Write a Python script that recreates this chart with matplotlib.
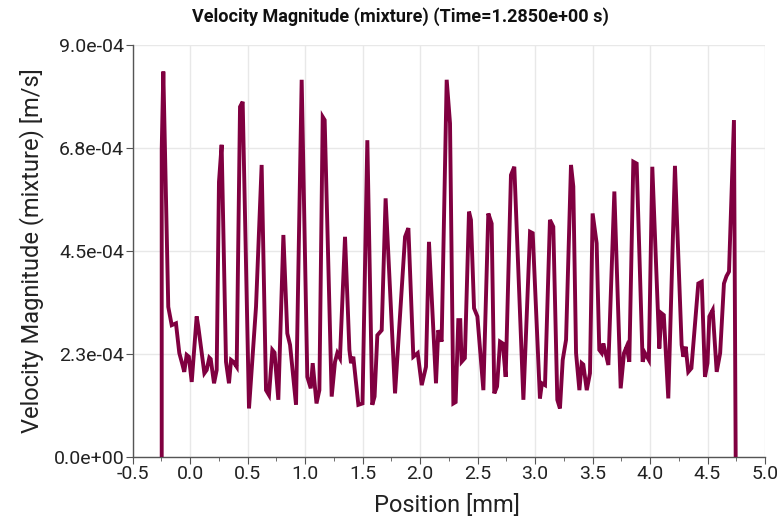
import matplotlib
matplotlib.use("Agg")
import matplotlib.pyplot as plt
from matplotlib.ticker import MultipleLocator

# Data (position in mm, velocity in units of 1e-4 m/s)
position_mm = [
    -0.246, -0.246, -0.232, -0.189, -0.159, -0.122, -0.093, -0.067, -0.050, -0.029,
    -0.010, 0.015, 0.058, 0.072, 0.125, 0.145, 0.168, 0.180, 0.209, 0.232,
    0.252, 0.275, 0.313, 0.339, 0.357, 0.377, 0.406, 0.435, 0.458, 0.513,
    0.574, 0.623, 0.661, 0.687, 0.716, 0.735, 0.768, 0.812, 0.846, 0.870,
    0.922, 0.971, 1.020, 1.050, 1.067, 1.100, 1.125, 1.154, 1.171, 1.232,
    1.261, 1.281, 1.304, 1.348, 1.386, 1.400, 1.420, 1.464, 1.500, 1.542,
    1.585, 1.605, 1.629, 1.667, 1.701, 1.783, 1.870, 1.899, 1.942, 1.980,
    2.015, 2.052, 2.078, 2.139, 2.159, 2.188, 2.232, 2.261, 2.290, 2.310,
    2.333, 2.350, 2.362, 2.390, 2.426, 2.443, 2.470, 2.499, 2.551, 2.594,
    2.623, 2.646, 2.670, 2.696, 2.720, 2.745, 2.791, 2.820, 2.899, 2.957,
    2.980, 3.043, 3.060, 3.087, 3.130, 3.159, 3.194, 3.217, 3.241, 3.270,
    3.313, 3.333, 3.357, 3.386, 3.406, 3.420, 3.450, 3.478, 3.501, 3.536,
    3.559, 3.580, 3.594, 3.638, 3.690, 3.745, 3.774, 3.797, 3.820, 3.855,
    3.884, 3.936, 3.956, 3.990, 4.020, 4.081, 4.100, 4.120, 4.159, 4.217,
    4.275, 4.290, 4.310, 4.333, 4.360, 4.420, 4.450, 4.478, 4.500, 4.516,
    4.545, 4.580, 4.610, 4.643, 4.665, 4.687, 4.730, 4.745,
]
velocity_e4 = [
    0.00, 6.71, 8.42, 3.28, 2.88, 2.92, 2.27, 2.03, 1.86, 2.23,
    2.19, 1.64, 3.07, 2.85, 1.83, 1.90, 2.17, 2.14, 1.61, 1.90,
    6.01, 6.82, 2.08, 1.61, 2.12, 2.08, 1.97, 7.65, 7.76, 1.06,
    3.28, 6.38, 1.46, 1.35, 2.34, 2.28, 1.25, 4.85, 2.70, 2.45,
    1.14, 8.24, 1.75, 1.50, 2.05, 1.17, 1.46, 7.43, 7.36, 1.32,
    2.08, 2.27, 2.16, 4.81, 2.34, 2.05, 2.19, 1.14, 1.17, 6.92,
    1.14, 1.32, 2.66, 2.77, 5.65, 1.39, 4.81, 5.00, 2.19, 2.27,
    1.57, 1.97, 4.70, 1.61, 2.77, 2.52, 8.24, 7.29, 1.17, 1.20,
    2.99, 2.99, 2.08, 2.16, 5.36, 5.18, 3.25, 3.07, 1.46, 5.32,
    5.10, 1.39, 1.54, 2.52, 2.48, 1.75, 6.16, 6.34, 1.25, 4.92,
    4.89, 1.28, 1.61, 1.57, 5.18, 5.03, 1.25, 1.06, 2.12, 2.56,
    6.38, 5.91, 2.27, 1.46, 2.05, 2.02, 1.46, 1.83, 5.32, 4.67,
    2.34, 2.27, 2.48, 2.01, 5.80, 1.50, 2.27, 2.41, 2.08, 6.45,
    6.41, 2.08, 2.27, 2.12, 6.34, 2.37, 3.14, 3.10, 1.28, 6.36,
    2.45, 2.19, 2.41, 1.86, 1.94, 3.79, 3.83, 1.75, 2.05, 3.07,
    3.21, 1.86, 2.27, 3.79, 3.95, 4.05, 7.36, 0.00,
]
velocity = [v * 1e-4 for v in velocity_e4]

y_ticks = [0.0, 2.25e-4, 4.5e-4, 6.75e-4, 9.0e-4]
y_tick_labels = ["0.0e+00", "2.3e-04", "4.5e-04", "6.8e-04", "9.0e-04"]
x_ticks = [-0.5, 0.0, 0.5, 1.0, 1.5, 2.0, 2.5, 3.0, 3.5, 4.0, 4.5, 5.0]
x_tick_labels = ["-0.5", "0.0", "0.5", "1.0", "1.5", "2.0", "2.5", "3.0", "3.5", "4.0", "4.5", "5.0"]

title = "Velocity Magnitude (mixture) (Time=1.2850e+00 s)"
x_label = "Position [mm]"
y_label = "Velocity Magnitude (mixture) [m/s]"

plt.rcParams['font.family'] = ['Roboto', 'DejaVu Sans']

fig = plt.figure(figsize=(7.79, 5.18), dpi=100)
ax = fig.add_axes([132.5 / 779, 1 - 457 / 518, (765 - 132.5) / 779, (457 - 45) / 518])

ax.plot(position_mm, velocity, color="#800040", linewidth=2.8, solid_joinstyle="miter", zorder=3)

ax.set_xlim(-0.5, 5.0)
ax.set_ylim(0, 9e-4)
ax.set_xticks(x_ticks)
ax.set_xticklabels(x_tick_labels)
ax.set_yticks(y_ticks)
ax.set_yticklabels(y_tick_labels)
ax.xaxis.set_minor_locator(MultipleLocator(0.25))

ax.grid(True, which="major", color="#e8e8e8", linewidth=1.0, zorder=0)
ax.set_axisbelow(True)
for s in ("top", "right"):
    ax.spines[s].set_visible(False)
for s in ("left", "bottom"):
    ax.spines[s].set_color("#555555")
    ax.spines[s].set_linewidth(1.0)

ax.tick_params(axis="both", which="major", length=5, color="#555555", labelsize=14,
               labelcolor="#222222", pad=1)
ax.tick_params(axis="x", which="minor", length=3, color="#555555")

ax.set_xlabel(x_label, fontsize=17, color="#222222")
ax.set_ylabel(y_label, fontsize=17, color="#222222")
ax.xaxis.set_label_coords((447 - 132.5) / 632.5, -(505 - 457) / 412, transform=ax.transAxes)
ax.yaxis.set_label_coords((32 - 132.5) / 632.5, 0.5, transform=ax.transAxes)
ax.xaxis.label.set_va("center")
ax.yaxis.label.set_va("center")

fig.text(400 / 779, 1 - 17 / 518, title, ha="center", va="center",
         fontsize=13, fontweight="bold", color="#111111")

fig.savefig("out.png", dpi=100)
